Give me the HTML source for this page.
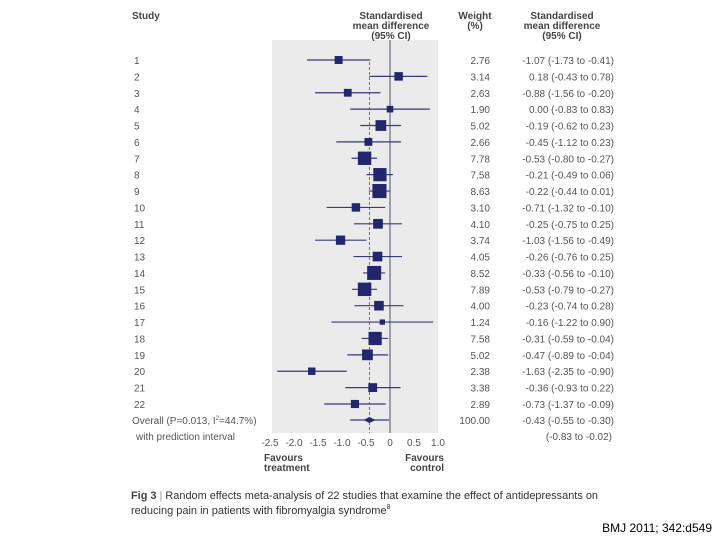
<!DOCTYPE html>
<html><head><meta charset="utf-8"><style>
body{margin:0;background:#fff;}
svg{display:block;font-family:"Liberation Sans",sans-serif;}
.t{font-size:10px;fill:#555;}
.h{font-size:10px;fill:#444;font-weight:bold;}
</style></head><body>
<svg id="chart" width="720" height="540" viewBox="0 0 720 540" xmlns="http://www.w3.org/2000/svg">
<rect x="272" y="40" width="166" height="393" fill="#ebebeb"/>
<text class="h" x="132" y="19">Study</text>
<g class="h" text-anchor="middle">
<text x="391" y="19">Standardised</text><text x="391" y="29">mean difference</text><text x="391" y="39">(95% CI)</text></g>
<g class="h" text-anchor="middle">
<text x="475" y="19">Weight</text><text x="475" y="29">(%)</text></g>
<g class="h" text-anchor="middle">
<text x="562" y="19">Standardised</text><text x="562" y="29">mean difference</text><text x="562" y="39">(95% CI)</text></g>
<g id="marks"></g>
<g id="axis"></g>
<g class="h"><text x="264" y="461">Favours</text><text x="264" y="471">treatment</text></g>
<g class="h" text-anchor="end"><text x="444" y="461">Favours</text><text x="444" y="471">control</text></g>
<g style="font-size:11px" fill="#333">
<text x="131" y="499" textLength="467" lengthAdjust="spacingAndGlyphs"><tspan font-weight="bold" fill="#444">Fig 3</tspan><tspan fill="#999"> | </tspan>Random effects meta-analysis of 22 studies that examine the effect of antidepressants on</text>
<text x="131" y="514">reducing pain in patients with fibromyalgia syndrome<tspan font-size="7" dy="-5">8</tspan></text></g>
<text x="712" y="532" text-anchor="end" style="font-size:12px" fill="#000">BMJ 2011; 342:d549</text>
</svg>
<script>
const studies=["1","2","3","4","5","6","7","8","9","10","11","12","13","14","15","16","17","18","19","20","21","22"];
const smd=[-1.07,0.18,-0.88,0.00,-0.19,-0.45,-0.53,-0.21,-0.22,-0.71,-0.25,-1.03,-0.26,-0.33,-0.53,-0.23,-0.16,-0.31,-0.47,-1.63,-0.36,-0.73];
const lo=[-1.73,-0.43,-1.56,-0.83,-0.62,-1.12,-0.80,-0.49,-0.44,-1.32,-0.75,-1.56,-0.76,-0.56,-0.79,-0.74,-1.22,-0.59,-0.89,-2.35,-0.93,-1.37];
const hi=[-0.41,0.78,-0.20,0.83,0.23,0.23,-0.27,0.06,0.01,-0.10,0.25,-0.49,0.25,-0.10,-0.27,0.28,0.90,-0.04,-0.04,-0.90,0.22,-0.09];
const weights=[2.76,3.14,2.63,1.90,5.02,2.66,7.78,7.58,8.63,3.10,4.10,3.74,4.05,8.52,7.89,4.00,1.24,7.58,5.02,2.38,3.38,2.89];
const overall=[-0.43,-0.55,-0.30];
const predInt=[-0.83,-0.02];
const ticks=[-2.5,-2.0,-1.5,-1.0,-0.5,0,0.5,1.0];
const tickLabels=["-2.5","-2.0","-1.5","-1.0","-0.5","0","0.5","1.0"];
const NS="http://www.w3.org/2000/svg";
const xs=v=>390+48*v, ys=i=>60+16.38*i;
const f=v=>(v<0?"-":"")+Math.abs(v).toFixed(2);
function mk(p,tag,a,txt){const e=document.createElementNS(NS,tag);for(const k in a)e.setAttribute(k,a[k]);if(txt!=null)e.textContent=txt;p.appendChild(e);return e;}
const g=document.getElementById('marks');
let zl=mk(g,'line',{x1:390,x2:390,y1:40,y2:433,stroke:'#6a6a80','stroke-width':1.2});


let dl=mk(g,'line',{x1:xs(overall[0]),x2:xs(overall[0]),y1:ys(0)+2,y2:433,stroke:'#555','stroke-width':0.8,'stroke-dasharray':'3,2'});


studies.forEach((s,i)=>{
 const y=ys(i);
 let l=mk(g,'text',{class:'t',x:134,y:y+4},s);
 
 
 let ci=mk(g,'line',{x1:xs(lo[i]),x2:xs(hi[i]),y1:y,y2:y,stroke:'#3a3a78','stroke-width':1.2});
 
 
 const sz=4.8*Math.sqrt(weights[i]);
 let sq=mk(g,'rect',{x:xs(smd[i])-sz/2,y:y-sz/2,width:sz,height:sz,fill:'#25256e'});
 
 
 let w=mk(g,'text',{class:'t',x:490,y:y+4,'text-anchor':'end'},weights[i].toFixed(2));
 
 
 let c=mk(g,'text',{class:'t',x:614,y:y+4,'text-anchor':'end'},f(smd[i])+" ("+f(lo[i])+" to "+f(hi[i])+")");
 
 
});
const yo=ys(21)+16;
let ol=mk(g,'text',{class:'t',x:132,y:yo+4},'Overall (P=0.013, I');
mk(ol,'tspan',{'font-size':6,dy:-4},'2');mk(ol,'tspan',{dy:4},'=44.7%)');


let pl=mk(g,'text',{class:'t',x:136,y:yo+20},'with prediction interval');


let pi=mk(g,'line',{x1:xs(predInt[0]),x2:xs(predInt[1]),y1:yo,y2:yo,stroke:'#3a3a78','stroke-width':1.2});


let dm=mk(g,'polygon',{points:`${xs(overall[1])},${yo} ${xs(overall[0])},${yo-3} ${xs(overall[2])},${yo} ${xs(overall[0])},${yo+3}`,fill:'#25256e'});


let ow=mk(g,'text',{class:'t',x:490,y:yo+4,'text-anchor':'end'},'100.00');


let oc=mk(g,'text',{class:'t',x:614,y:yo+4,'text-anchor':'end'},f(overall[0])+" ("+f(overall[1])+" to "+f(overall[2])+")");


let pc=mk(g,'text',{class:'t',x:612,y:yo+20,'text-anchor':'end'},"("+f(predInt[0])+" to "+f(predInt[1])+")");


const ax=document.getElementById('axis');
ticks.forEach((t,i)=>{
 let tk=mk(ax,'line',{x1:xs(t),x2:xs(t),y1:433,y2:436,stroke:'#fff','stroke-width':1});
 
 
 let tl=mk(ax,'text',{class:'t',x:xs(t),y:446,'text-anchor':'middle'},tickLabels[i]);
 
 
});
</script>
</body></html>
